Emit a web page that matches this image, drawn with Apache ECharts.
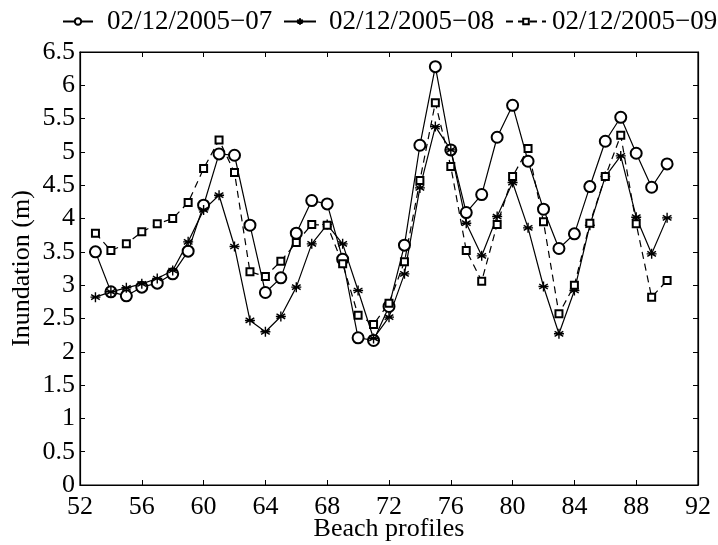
<!DOCTYPE html>
<html>
<head>
<meta charset="utf-8">
<script src="https://cdn.jsdelivr.net/npm/echarts@6/dist/echarts.min.js"></script>
<style>html,body{margin:0;padding:0;background:#fff;}#c{width:718px;height:545px;}</style>
</head>
<body>
<div id="c"></div>
<script>
const profiles = [53,54,55,56,57,58,59,60,61,62,63,64,65,66,67,68,69,70,71,72,73,74,75,76,77,78,79,80,81,82,83,84,85,86,87,88,89,90];
const s07 = [3.5,2.9,2.84,2.97,3.03,3.17,3.51,4.2,4.97,4.95,3.9,2.89,3.11,3.78,4.27,4.22,3.39,2.21,2.17,2.68,3.6,5.1,6.28,5.03,4.09,4.36,5.22,5.7,4.86,4.14,3.55,3.77,4.48,5.16,5.52,4.98,4.47,4.82];
const s08 = [2.82,2.9,2.96,3.02,3.1,3.22,3.65,4.13,4.35,3.58,2.47,2.3,2.53,2.97,3.62,3.91,3.62,2.92,2.2,2.52,3.17,4.46,5.38,5.03,3.93,3.44,4.03,4.54,3.86,2.98,2.27,2.92,3.9,4.63,4.94,4.02,3.47,4.01];
const s09 = [3.78,3.52,3.62,3.8,3.92,4.0,4.24,4.75,5.18,4.69,3.2,3.13,3.36,3.64,3.91,3.9,3.32,2.55,2.41,2.73,3.35,4.57,5.74,4.78,3.52,3.06,3.91,4.63,5.05,3.95,2.57,3.0,3.93,4.63,5.25,3.92,2.82,3.07];
const names = ['02/12/2005\u221207','02/12/2005\u221208','02/12/2005\u221209'];

const FONT = 'Liberation Serif';
const star = 'path://M0,-1L0,1M-0.866,-0.5L0.866,0.5M-0.866,0.5L0.866,-0.5M-1,0L1,0';
function pairs(a){ return profiles.map((x,i)=>[x,a[i]]); }

const chart = echarts.init(document.getElementById('c'), null, {renderer:'canvas'});
function axis(extra){
  return Object.assign({
    type:'value',
    axisLine:{show:true, onZero:false, lineStyle:{color:'#000', width:1.2}},
    axisTick:{show:true, inside:true, length:5, lineStyle:{color:'#000', width:1}},
    splitLine:{show:false}
  }, extra);
}
function leg(name, left, w, h, pad){
  return {data:[name], left:left, top:8, padding:0, itemWidth:w, itemHeight:h, itemGap:0,
    textStyle:{fontFamily:FONT, fontSize:27, color:'#000', padding:[0,0,0,pad]}};
}
chart.setOption({
  animation:false,
  backgroundColor:'#fff',
  grid:{left:80, right:20, top:52, bottom:60, containLabel:false, outerBoundsMode:'none',
        show:true, borderColor:'#000', borderWidth:1.2, backgroundColor:'transparent'},
  legend:[
    leg(names[0], 62, 30, 8, 9),
    leg(names[1], 283, 32, 8, 8),
    leg(names[2], 505, 40, 7, 1)
  ],
  xAxis:[
    axis({min:52, max:92, interval:4, position:'bottom',
      name:'Beach profiles', nameLocation:'middle', nameGap:31, nameMoveOverlap:false,
      nameTextStyle:{fontFamily:FONT, fontSize:26, color:'#000'},
      axisLabel:{fontFamily:FONT, fontSize:26, color:'#000', margin:9}}),
    axis({min:52, max:92, interval:4, position:'top', axisLabel:{show:false}})
  ],
  yAxis:[
    axis({min:0, max:6.5, interval:0.5, position:'left',
      name:'Inundation (m)', nameLocation:'middle', nameGap:45, nameMoveOverlap:false,
      nameTextStyle:{fontFamily:FONT, fontSize:26, color:'#000'},
      axisLabel:{fontFamily:FONT, fontSize:26, color:'#000', margin:5}}),
    axis({min:0, max:6.5, interval:0.5, position:'right', axisLabel:{show:false}})
  ],
  series:[
    {name:names[0], type:'line', data:pairs(s07), symbol:'emptyCircle', symbolSize:11,
     lineStyle:{color:'#000', width:1.2}, itemStyle:{color:'#000', borderColor:'#000', borderWidth:1.1}},
    {name:names[1], type:'line', data:pairs(s08), symbol:star, symbolSize:10,
     lineStyle:{color:'#000', width:1.2}, itemStyle:{color:'#000', borderColor:'#000', borderWidth:1.4}},
    {name:names[2], type:'line', data:pairs(s09), symbol:'emptyRect', symbolSize:7,
     lineStyle:{color:'#000', width:1.2, type:[7,5]}, itemStyle:{color:'#000', borderColor:'#000', borderWidth:1.3}}
  ]
});
</script>
</body>
</html>
